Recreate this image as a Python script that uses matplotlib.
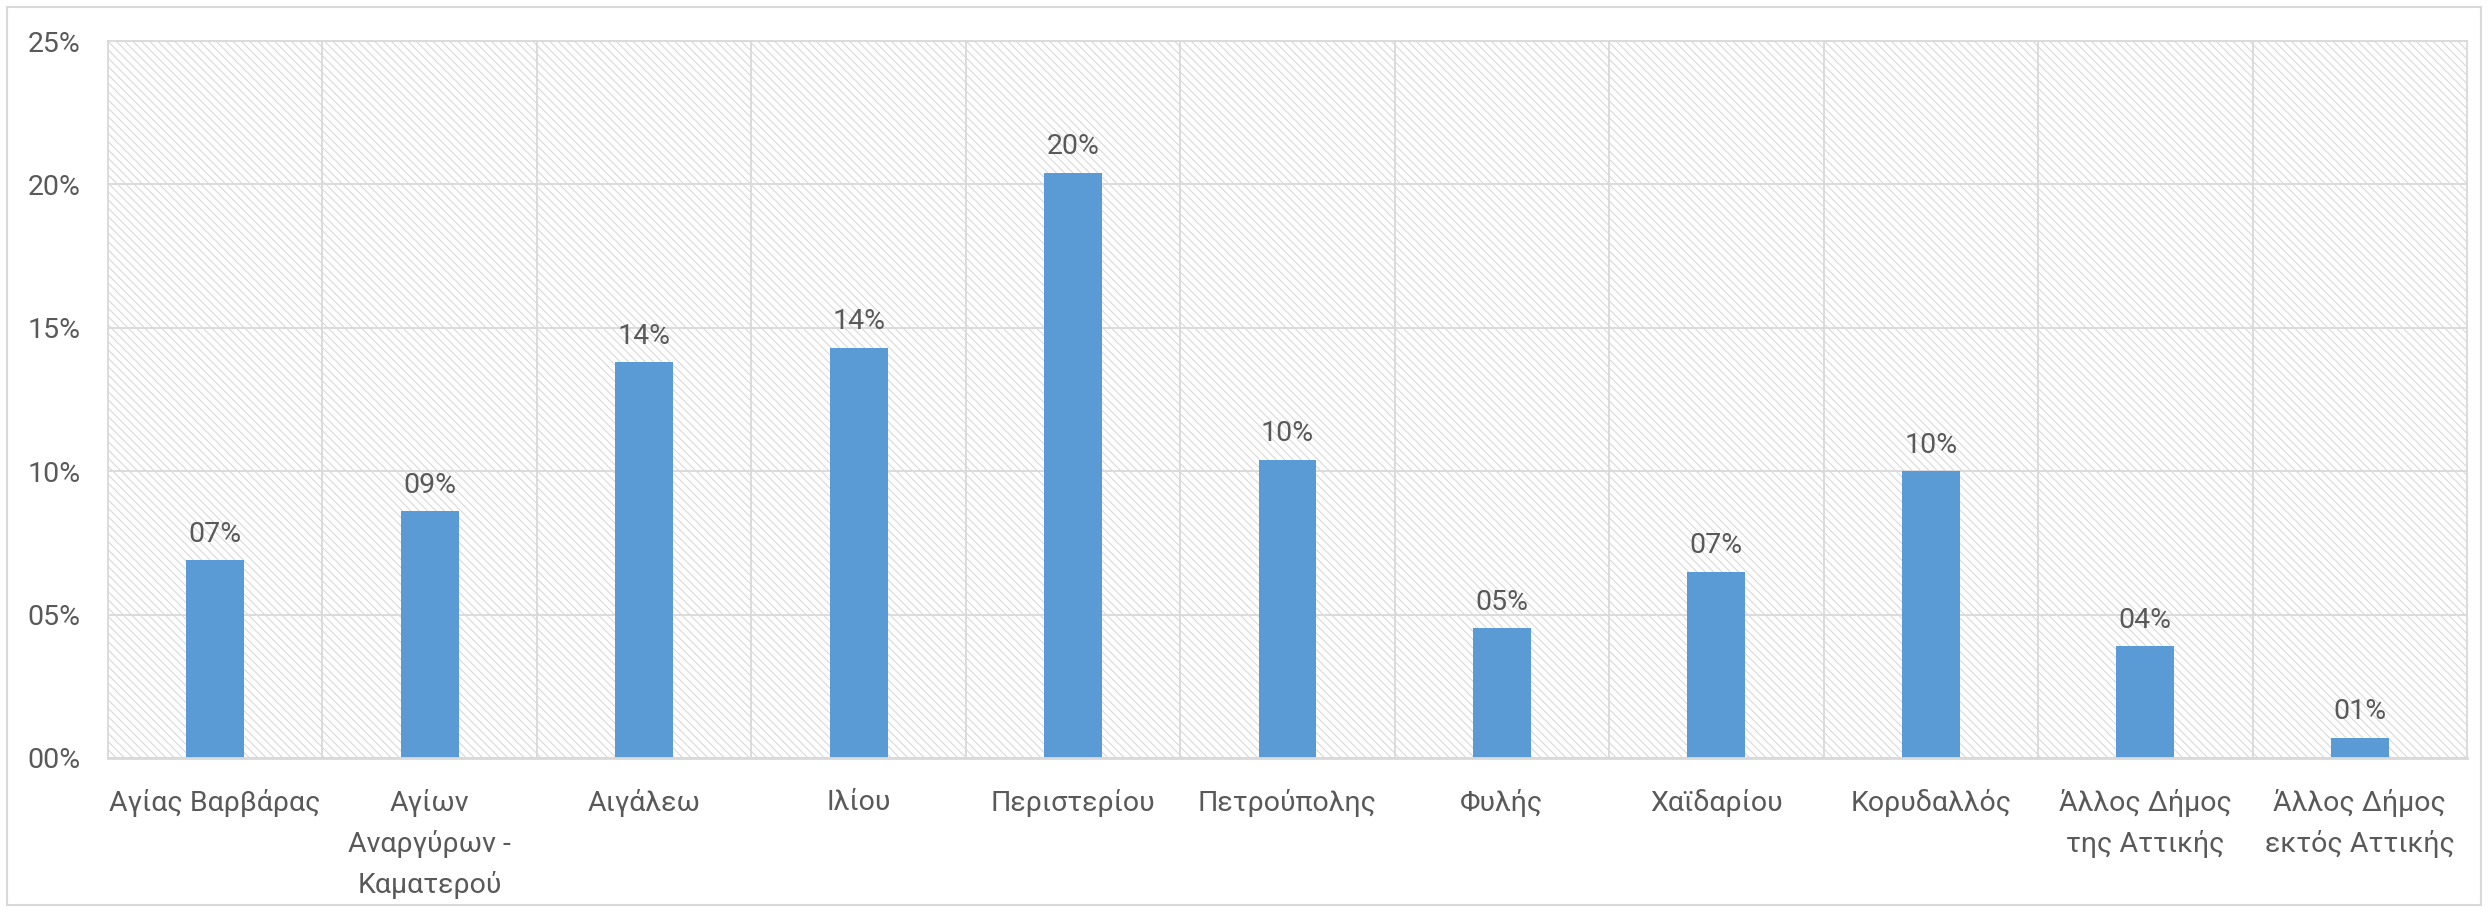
import numpy as np
import matplotlib
matplotlib.use("Agg")
from matplotlib import pyplot as plt
from matplotlib.patches import Rectangle

# data (percent of respondents per municipality)
categories = ["Αγίας Βαρβάρας", "Αγίων\nΑναργύρων -\nΚαματερού", "Αιγάλεω", "Ιλίου",
              "Περιστερίου", "Πετρούπολης", "Φυλής", "Χαϊδαρίου", "Κορυδαλλός",
              "Άλλος Δήμος\nτης Αττικής", "Άλλος Δήμος\nεκτός Αττικής"]
values = [6.9, 8.6, 13.8, 14.3, 20.4, 10.4, 4.52, 6.5, 10.0, 3.9, 0.7]
yticks = [0, 5, 10, 15, 20, 25]

text_col = "#595959"
grid_col = "#d9d9d9"
bar_col = "#5b9bd5"

plt.rcParams['font.family'] = ['Roboto', 'DejaVu Sans']
plt.rcParams['hatch.color'] = "#c8c8c8"
plt.rcParams['hatch.linewidth'] = 0.8

fig = plt.figure(figsize=(24.88, 9.09), dpi=100)
ax = fig.add_axes([108/2488, 1-758/909, (2467-108)/2488, (758-41)/909])

# hatched background like the excel plot area
bg = Rectangle((0, 0), 1, 1, transform=ax.transAxes, facecolor="white",
               edgecolor=grid_col, hatch="\\\\\\\\", linewidth=0, zorder=0.1)
ax.add_patch(bg)

x = np.arange(len(categories))
ax.bar(x, values, width=0.27, color=bar_col, zorder=2)

for xi, v in zip(x, values):
    ax.annotate("{:02d}%".format(int(np.floor(v + 0.5))), (xi, v), xytext=(0, 9),
                textcoords="offset points", ha="center", va="bottom",
                fontsize=20.5, color=text_col, zorder=3)

ax.set_xlim(-0.5, len(categories) - 0.5)
ax.set_ylim(0, 25)
ax.set_yticks(yticks)
ax.set_yticklabels(["{:02d}%".format(t) for t in yticks])
ax.set_xticks(x)
ax.set_xticklabels(categories, linespacing=1.6, va="top")
ax.set_xticks(np.arange(0.5, len(categories) - 0.5), minor=True)

ax.tick_params(which="both", length=0)
ax.tick_params(axis="y", labelsize=20.5, labelcolor=text_col, pad=20)
ax.tick_params(axis="x", labelsize=20.5, labelcolor=text_col, pad=22)

ax.set_axisbelow(True)
ax.grid(axis="y", which="major", color=grid_col, linewidth=1.3)
ax.grid(axis="x", which="minor", color=grid_col, linewidth=1.3)
for s in ax.spines.values():
    s.set_color(grid_col)
    s.set_linewidth(1.3)
ax.spines["bottom"].set_linewidth(2)

# outer chart border
fig.patches.append(Rectangle((7/2488, 4/909), 1-14/2488, 1-11/909, transform=fig.transFigure,
                             fill=False, edgecolor=grid_col, linewidth=1.5))

fig.savefig("out.png", dpi=100)
